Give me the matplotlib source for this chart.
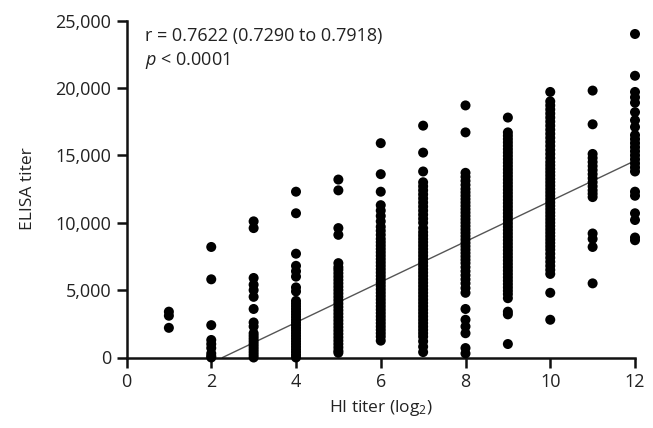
import matplotlib
matplotlib.use("Agg")
import matplotlib.pyplot as plt
import numpy as np

# ---------------- data ----------------
hi_levels = [1, 2, 3, 4, 5, 6, 7, 8, 9, 10, 11, 12]

elisa_hi1 = [3400, 3100, 2200]
elisa_hi2 = [8200, 5800, 2400, 1300, 1000, 700, 300, 100, 0]
elisa_hi3 = [10100, 9600, 5900, 5400, 5000, 4500, 3600, 2600, 2300,
             1800, 1600, 1400, 1200, 1000, 800, 600, 400, 200, 0]
elisa_hi4 = [12300, 10700, 7700, 6800, 6400, 6000, 5200, 4900,
             4200, 4000, 3800, 3600, 3400, 3200, 3000, 2800, 2600, 2400,
             2200, 2000, 1800, 1600, 1400, 1200, 1000, 800, 600, 400, 200, 0]
elisa_hi5 = [13200, 12400, 9600, 9100,
             7000, 6700, 6500, 6250, 6000, 5750, 5500, 5250, 5000, 4750,
             4500, 4250, 4000, 3750, 3500, 3250, 3000, 2750, 2500, 2250,
             2000, 1750, 1500, 1250, 1000, 750, 500, 350]
elisa_hi6 = [15900, 13600, 12300,
             11300, 10900, 10500, 10100, 9700, 9400, 9100, 8800, 8550, 8300,
             8050, 7800, 7550, 7300, 7050, 6800, 6550, 6300, 6050, 5800,
             5550, 5300, 5050, 4800, 4550, 4300, 4050, 3800, 3550, 3300,
             3050, 2800, 2550, 2300, 2050, 1800, 1550, 1250]
elisa_hi7 = [17200, 15200, 13800,
             13000, 12700, 12400, 12100, 11800, 11500, 11200, 10900, 10600,
             10300, 10000, 9600, 9300, 9050, 8800, 8550, 8300, 8050, 7800,
             7550, 7300, 7050, 6800, 6550, 6300, 6050, 5800, 5550, 5300,
             5050, 4800, 4550, 4300, 4050, 3800, 3550, 3300, 3050, 2800,
             2550, 2300, 2050, 1800, 1550, 1200, 800, 400]
elisa_hi8 = [18700, 16700,
             13700, 13400, 13100, 12800, 12500, 12250, 12000, 11750, 11500,
             11250, 11000, 10750, 10500, 10250, 10000, 9750, 9500, 9250,
             9000, 8750, 8500, 8250, 8000, 7750, 7500, 7250, 7000, 6700,
             6400, 6100, 5800, 5500, 5150, 4800,
             3600, 2800, 2300, 1800, 700, 300]
elisa_hi9 = [17800,
             16700, 16450, 16200, 15950, 15700, 15450, 15200, 14950, 14700,
             14450, 14200, 13950, 13700, 13450, 13200, 12950, 12700, 12450,
             12200, 11950, 11700, 11450, 11200, 10950, 10700, 10450, 10200,
             9950, 9700, 9450, 9200, 8950, 8700, 8450, 8200, 7950, 7700,
             7450, 7200, 6950, 6700, 6450, 6200, 5950, 5700, 5450, 5200,
             4950, 4700, 4400,
             3400, 3200, 1000]
elisa_hi10 = [19700,
              19000, 18700, 18400, 18100, 17800, 17500, 17200, 16900, 16600,
              16300, 16000, 15700, 15400, 15100, 14800, 14500, 14250, 14000,
              13750, 13500, 13250, 13000, 12750, 12500, 12250, 12000, 11750,
              11500, 11250, 11000, 10750, 10500, 10250, 10000, 9750, 9500,
              9250, 9000, 8750, 8500, 8250, 8000, 7700, 7400, 7100, 6800,
              6500, 6200,
              4800, 2800]
elisa_hi11 = [19800, 17300,
              15100, 14800, 14500, 14200, 13900, 13600, 13300, 13000, 12700,
              12400, 12150, 11900,
              9200, 8800, 8200, 5500]
elisa_hi12 = [24000, 20900, 19700, 19300, 18900, 18200, 17600, 17100,
              16500, 16200, 15900, 15600, 15300, 15000, 14700, 14400, 14100,
              13800, 12300, 12000, 10700, 10200, 8900, 8700]

elisa_by_level = [elisa_hi1, elisa_hi2, elisa_hi3, elisa_hi4, elisa_hi5,
                  elisa_hi6, elisa_hi7, elisa_hi8, elisa_hi9, elisa_hi10,
                  elisa_hi11, elisa_hi12]

# linear fit
fit_slope = 1500.0
fit_intercept = -3400.0

x_ticks = [0, 2, 4, 6, 8, 10, 12]
y_ticks = [0, 5000, 10000, 15000, 20000, 25000]
y_tick_labels = ["0", "5,000", "10,000", "15,000", "20,000", "25,000"]

stat_line1 = "r = 0.7622 (0.7290 to 0.7918)"
stat_line2 = r"$\it{p}$ < 0.0001"

# ---------------- drawing ----------------
plt.rcParams['font.family'] = ['Open Sans', 'DejaVu Sans']
plt.rcParams['mathtext.fontset'] = 'custom'
plt.rcParams['mathtext.rm'] = 'Open Sans'
plt.rcParams['mathtext.it'] = 'Open Sans:italic'

fig = plt.figure(figsize=(6.53, 4.28), dpi=100)
ax = fig.add_axes([126.5 / 653, (428 - 357.5) / 428,
                   (635 - 126.5) / 653, (357.5 - 20.5) / 428])

xs = []
ys = []
for lvl, vals in zip(hi_levels, elisa_by_level):
    xs.extend([lvl] * len(vals))
    ys.extend(vals)
ax.scatter(xs, ys, s=52, color='black', edgecolors='none', zorder=3,
           clip_on=False)

x0 = -fit_intercept / fit_slope
xl = np.array([x0, 12.0])
ax.plot(xl, fit_slope * xl + fit_intercept, color='#555555', lw=1.0,
        zorder=2)

ax.set_xlim(0, 12)
ax.set_ylim(0, 25000)
ax.set_xticks(x_ticks)
ax.set_yticks(y_ticks)
ax.set_yticklabels(y_tick_labels)

for side in ['top', 'right']:
    ax.spines[side].set_visible(False)
for side in ['left', 'bottom']:
    ax.spines[side].set_linewidth(1.8)
    ax.spines[side].set_color('#111111')
ax.tick_params(axis='both', which='major', length=7, width=1.8,
               colors='#111111', labelsize=13, labelcolor='#222222', pad=4)

ax.set_xlabel(r"HI titer (log$_2$)", fontsize=12.5, color='#222222',
              labelpad=5)
ax.set_ylabel("ELISA titer", fontsize=12.5, color='#222222', labelpad=14)

ax.text(0.44, 23850, stat_line1, fontsize=13, color='#222222', va='center',
        ha='left')
ax.text(0.44, 22050, stat_line2, fontsize=13, color='#222222', va='center',
        ha='left')

fig.savefig("out.png", dpi=100)
